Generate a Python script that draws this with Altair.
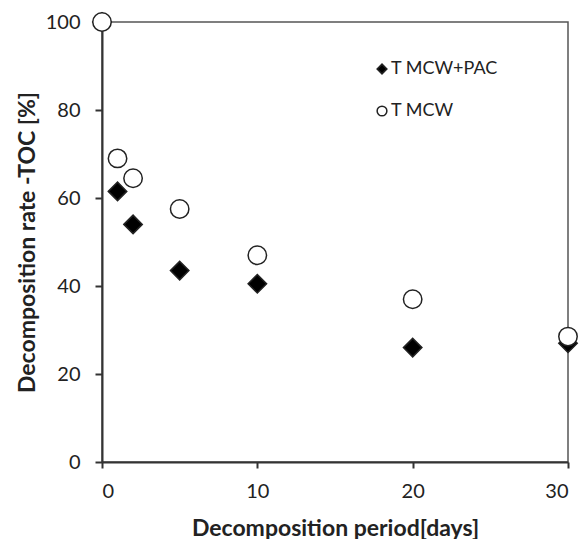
import altair as alt
import pandas as pd

days = [0, 1, 2, 5, 10, 20, 30]
pac_values = [100, 61.5, 54, 43.5, 40.5, 26, 27]
mcw_values = [100, 69, 64.5, 57.5, 47, 37, 28.5]
series_names = ["T MCW+PAC", "T MCW"]
x_ticks = [0, 10, 20, 30]
y_ticks = [0, 20, 40, 60, 80, 100]

rows = []
for d, v in zip(days, pac_values):
    rows.append({"day": d, "rate": v, "series": series_names[0], "ord": 0})
for d, v in zip(days, mcw_values):
    rows.append({"day": d, "rate": v, "series": series_names[1], "ord": 1})
df = pd.DataFrame(rows)

FONT = "Lato"

legend = alt.Legend(title=None, orient="none", legendX=271, legendY=38,
                    symbolSize=95, labelFontSize=18, rowPadding=24,
                    symbolStrokeWidth=1.5, labelOffset=0, labelFont=FONT,
                    labelColor="#222222")

chart = alt.Chart(df).mark_point(filled=True, size=340, strokeWidth=1.5,
                                 opacity=1, clip=False).encode(
    x=alt.X("day:Q", scale=alt.Scale(domain=[0, 30], nice=False, zero=False),
            axis=alt.Axis(values=x_ticks, title="Decomposition period[days]",
                          grid=False, tickSize=6, labelPadding=13,
                          titlePadding=16)),
    y=alt.Y("rate:Q", scale=alt.Scale(domain=[0, 100], nice=False),
            axis=alt.Axis(values=y_ticks, title="Decomposition rate -TOC [%]",
                          grid=False, tickSize=7, labelPadding=15,
                          titlePadding=6)),
    shape=alt.Shape("series:N",
                    scale=alt.Scale(domain=series_names, range=["diamond", "circle"]),
                    legend=legend),
    fill=alt.Fill("series:N",
                  scale=alt.Scale(domain=series_names, range=["#000000", "#ffffff"]),
                  legend=legend),
    stroke=alt.Stroke("series:N",
                      scale=alt.Scale(domain=series_names, range=["#222222", "#222222"]),
                      legend=legend),
    order=alt.Order("ord:Q"),
).properties(
    width=466, height=440,
    autosize=alt.AutoSizeParams(type="none"),
    padding={"left": 102, "top": 22, "right": 18, "bottom": 77},
).configure_view(
    stroke="#555555", strokeWidth=1.5
).configure_axis(
    domainColor="#333333", domainWidth=2, tickColor="#333333", tickWidth=2,
    labelFont=FONT, labelFontSize=20, labelColor="#222222",
    titleFont=FONT, titleFontSize=23, titleFontWeight="bold", titleColor="#222222",
)

chart.save("out.html", embed_options={"renderer": "svg", "actions": False})
